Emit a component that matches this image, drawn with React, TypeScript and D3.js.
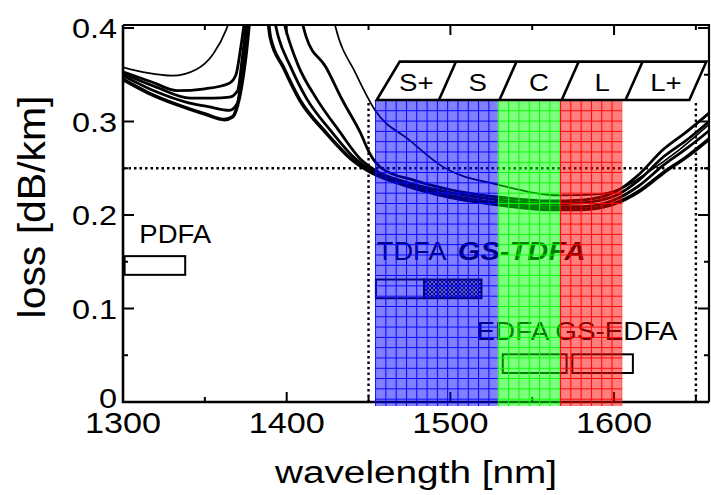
import React from 'react';
import * as d3 from 'd3';

type P = [number, number];

// Fiber loss curves [wavelength nm, loss dB/km]
const curveA: P[] = [[1300,0.358],[1315,0.352],[1330,0.349],[1345,0.356],[1355,0.372],[1363,0.398],[1372,0.45],[1400,0.6],[1424,0.45],[1430,0.40],[1442,0.352],[1454,0.312],[1475,0.28],[1495,0.252],[1530,0.232],[1567,0.221],[1590,0.222],[1605,0.229],[1620,0.245],[1640,0.270],[1660,0.300]];
const curveB: P[] = [[1300,0.353],[1318,0.342],[1333,0.333],[1350,0.335],[1365,0.341],[1369,0.35],[1372,0.38],[1376,0.43],[1390,0.55],[1405,0.44],[1412,0.39],[1424,0.358],[1434,0.323],[1445,0.288],[1451,0.265],[1458,0.25],[1478,0.237],[1500,0.227],[1530,0.219],[1560,0.215],[1580,0.216],[1600,0.224],[1615,0.243],[1630,0.270],[1645,0.290],[1660,0.312]];
const curveC: P[] = [[1300,0.351],[1320,0.337],[1341,0.325],[1355,0.325],[1365,0.326],[1370,0.333],[1373,0.37],[1377,0.43],[1385,0.5],[1395,0.43],[1400,0.395],[1407,0.36],[1418,0.325],[1432,0.29],[1445,0.26],[1453,0.249],[1475,0.234],[1500,0.224],[1530,0.216],[1560,0.212],[1580,0.213],[1600,0.220],[1615,0.237],[1630,0.262],[1645,0.281],[1660,0.303]];
const curveD: P[] = [[1300,0.349],[1320,0.332],[1340,0.320],[1352,0.316],[1365,0.312],[1370,0.32],[1373,0.36],[1377,0.42],[1383,0.5],[1390,0.43],[1395,0.39],[1402,0.36],[1412,0.325],[1427,0.29],[1442,0.26],[1452,0.247],[1475,0.232],[1500,0.221],[1530,0.213],[1560,0.209],[1580,0.209],[1600,0.216],[1615,0.231],[1630,0.253],[1645,0.272],[1660,0.293]];
const curveE: P[] = [[1300,0.345],[1315,0.331],[1333,0.318],[1350,0.308],[1362,0.302],[1367,0.305],[1371,0.325],[1375,0.37],[1379,0.44],[1383,0.5],[1387,0.44],[1390,0.39],[1398,0.358],[1408,0.323],[1424,0.288],[1440,0.259],[1450,0.247],[1470,0.233],[1500,0.219],[1530,0.211],[1560,0.206],[1580,0.206],[1600,0.212],[1615,0.225],[1630,0.245],[1645,0.263],[1660,0.284]];
const thinCurves = [curveA];
const bundleCurves = [curveB, curveC, curveD, curveE];

// Axis ticks
const xTicks = [1300, 1400, 1500, 1600];
const xMinorTicks = [1350, 1450, 1550, 1650];
const yTicks = [0, 0.1, 0.2, 0.3, 0.4];
const yMinorTicks = [0.05, 0.15, 0.25, 0.35];

// Reference lines
const refLoss = 0.25;
const refWavelengths = [1450, 1650];

// Transmission bands (coloured overlays)
const bandEdges = [1454, 1529, 1567, 1605];
const bandColors = ['#0000ff', '#00ff00', '#ff0000'];
const bandTop = 0.323;

// Band name boxes
const bandLabels = ['S+', 'S', 'C', 'L', 'L+'];
const bandLabelEdges = [1455, 1493, 1530, 1568, 1607, 1646];
const bandLabelLow = 0.323;
const bandLabelHigh = 0.364;

// Amplifier gain ranges
const ampNames = ['PDFA', 'TDFA', 'GS-TDFA', 'EDFA', 'GS-EDFA'];
const ampStart = [1301, 1454.5, 1484, 1532, 1574.5];
const ampEnd = [1338, 1484, 1519, 1571, 1611.5];
const ampLow = [0.136, 0.111, 0.111, 0.031, 0.031];
const ampHigh = [0.156, 0.131, 0.131, 0.051, 0.051];
const ampHatched = [false, false, true, false, false];

const FONT = '"Liberation Sans", Arial, Helvetica, sans-serif';

function T(props: any) {
  const { x, y, size, anchor = 'start', sx = 1.2, rotate, weight, italic, fill = '#000', children } = props;
  const tr = `translate(${x},${y})${rotate ? ` rotate(${rotate})` : ''} scale(${sx},1)`;
  return (
    <text transform={tr} fontSize={size} textAnchor={anchor} fontFamily={FONT}
      fontWeight={weight || 'normal'} fontStyle={italic ? 'italic' : 'normal'} fill={fill}>
      {children}
    </text>
  );
}

export default function App() {
  const x = d3.scaleLinear().domain([1300, 1658]).range([123, 709]);
  const y = d3.scaleLinear().domain([0, 0.4]).range([402, 28]);
  const line = d3.line<P>().x(d => x(d[0])).y(d => y(d[1])).curve(d3.curveMonotoneX);

  const left = x(1300), right = x(1658), bottom = y(0), top = y(0.4) - 3;
  const gs = 10.3;
  const bandTopPx = y(bandTop);
  const slant = 17;

  return (
    <svg width={711} height={495} style={{ position: 'absolute', left: 0, top: 0, background: '#fff' }}>
      <defs>
        <clipPath id="plot"><rect x={left} y={top} width={right - left} height={bottom - top} /></clipPath>
        {bandColors.map((c, i) => (
          <pattern key={i} id={`band${i}`} patternUnits="userSpaceOnUse" width={gs} height={gs}
            x={x(bandEdges[i])} y={bandTopPx}>
            <rect width={gs} height={gs} fill={c} fillOpacity={0.5} />
            <rect x={1} y={1} width={1} height={1} fill="#fff" fillOpacity={0.15} />
            <rect x={5} y={5} width={1} height={1} fill="#fff" fillOpacity={0.15} />
            <path d={`M0,0.5H${gs}M0.5,0V${gs}`} stroke={c} strokeWidth={1} />
          </pattern>
        ))}
        <pattern id="hatch" patternUnits="userSpaceOnUse" width={4} height={4}>
          <rect width={4} height={4} fill="#fff" />
          <path d="M0,4L4,0M-1,1L1,-1M3,5L5,3M0,0L4,4" stroke="#000" strokeWidth={1.1} />
        </pattern>
      </defs>

      {/* loss curves */}
      <g clipPath="url(#plot)" fill="none" stroke="#000">
        {bundleCurves.map((c, i) => (
          <path key={i} d={line(c) || ''} strokeWidth={i === 3 ? 3.6 : 2.8} />
        ))}
        {thinCurves.map((c, i) => (
          <path key={i} d={line(c) || ''} strokeWidth={1.7} />
        ))}
      </g>

      {/* dotted reference lines */}
      <g stroke="#000" strokeWidth={2.4} strokeDasharray="2.5 3">
        <line x1={left} x2={right} y1={y(refLoss)} y2={y(refLoss)} />
        {refWavelengths.map((w, i) => (
          <line key={i} x1={x(w)} x2={x(w)} y1={bandTopPx + 3} y2={bottom} />
        ))}
      </g>

      {/* frame and ticks */}
      <g stroke="#000" fill="none">
        <path d={`M${left},${top}V${bottom}H${right}`} strokeWidth={2.6} />
        <path d={`M${left},${top}H${right}V${bottom}`} strokeWidth={2.2} />
        {xTicks.map(t => (
          <g key={t}>
            <line x1={x(t)} x2={x(t)} y1={bottom} y2={bottom - 10} strokeWidth={2} />
            <line x1={x(t)} x2={x(t)} y1={top} y2={top + 10} strokeWidth={2} />
          </g>
        ))}
        {xMinorTicks.map(t => (
          <g key={t}>
            <line x1={x(t)} x2={x(t)} y1={bottom} y2={bottom - 5} strokeWidth={2} />
            <line x1={x(t)} x2={x(t)} y1={top} y2={top + 5} strokeWidth={2} />
          </g>
        ))}
        {yTicks.map(t => (
          <g key={t}>
            <line x1={left} x2={left + 11} y1={y(t)} y2={y(t)} strokeWidth={2} />
            <line x1={right} x2={right - 11} y1={y(t)} y2={y(t)} strokeWidth={2} />
          </g>
        ))}
        {yMinorTicks.map(t => (
          <g key={t}>
            <line x1={left} x2={left + 5} y1={y(t)} y2={y(t)} strokeWidth={2} />
            <line x1={right} x2={right - 5} y1={y(t)} y2={y(t)} strokeWidth={2} />
          </g>
        ))}
      </g>

      {/* amplifier boxes */}
      {ampNames.map((n, i) => (
        <rect key={n} x={x(ampStart[i])} y={y(ampHigh[i])}
          width={x(ampEnd[i]) - x(ampStart[i])} height={y(ampLow[i]) - y(ampHigh[i])}
          fill={ampHatched[i] ? 'url(#hatch)' : 'none'} stroke="#000" strokeWidth={2} />
      ))}

      {/* amplifier labels */}
      <T x={x(1310)} y={y(0.170)} size={25} sx={1.1}>PDFA</T>
      <T x={x(1455)} y={y(0.152)} size={26} sx={1.05}>TDFA</T>
      <T x={x(1504.5)} y={y(0.152)} size={26} sx={1.12} weight="bold" italic>GS-TDFA</T>
      <T x={x(1516)} y={y(0.066)} size={26} sx={1.07}>EDFA GS-EDFA</T>

      {/* coloured bands */}
      {bandColors.map((c, i) => (
        <rect key={c} x={x(bandEdges[i])} y={bandTopPx}
          width={x(bandEdges[i + 1]) - x(bandEdges[i])} height={bottom + 4 - bandTopPx}
          fill={`url(#band${i})`} />
      ))}

      {/* band name boxes */}
      <g stroke="#000" strokeWidth={2.6} fill="#fff" strokeLinejoin="miter">
        <path d={`M${x(bandLabelEdges[0])},${y(bandLabelLow)}L${x(bandLabelEdges[0]) + slant + 6},${y(bandLabelHigh)}H${x(bandLabelEdges[5]) + slant}L${x(bandLabelEdges[5])},${y(bandLabelLow)}Z`} />
        {bandLabelEdges.slice(1, 5).map((w, i) => (
          <line key={i} x1={x(w)} y1={y(bandLabelLow)} x2={x(w) + slant} y2={y(bandLabelHigh)} />
        ))}
      </g>
      {bandLabels.map((l, i) => (
        <T key={l} x={(x(bandLabelEdges[i]) + x(bandLabelEdges[i + 1])) / 2 + slant / 2}
          y={y(bandLabelLow) - 9} size={24} sx={1.15} anchor="middle">{l}</T>
      ))}

      {/* tick labels */}
      {yTicks.map(t => (
        <T key={t} x={left - 6} y={y(t) + (t === 0 ? 6 : 10)} size={27} sx={1.2} anchor="end">{t === 0 ? '0' : d3.format('.1f')(t)}</T>
      ))}
      {xTicks.map(t => (
        <T key={t} x={x(t)} y={433} size={29} sx={1.18} anchor="middle">{t}</T>
      ))}

      {/* axis titles */}
      <T x={(left + right) / 2} y={483} size={31} sx={1.25} anchor="middle">wavelength [nm]</T>
      <T x={45} y={207} size={39} sx={1.05} anchor="middle" rotate={-90}>loss [dB/km]</T>
    </svg>
  );
}
